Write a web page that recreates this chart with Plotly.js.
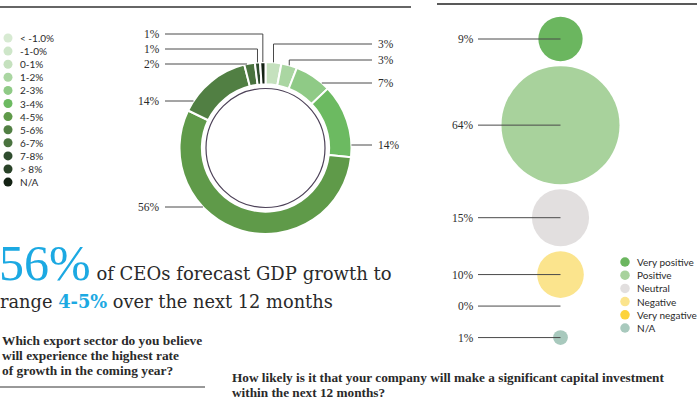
<!DOCTYPE html>
<html><head><meta charset="utf-8">
<script src="https://cdn.plot.ly/plotly-3.0.1.min.js"></script>
<style>html,body{margin:0;padding:0;background:#fff}#chart{width:700px;height:400px}</style>
</head><body><div id="chart"></div>
<script>
// ---------------- data ----------------
const growthCategories = ['< -1.0%', '-1-0%', '0-1%', '1-2%', '2-3%', '3-4%', '4-5%', '5-6%', '6-7%', '7-8%', '> 8%', 'N/A'];
const growthShares = [0, 0, 3, 3, 7, 14, 56, 14, 2, 1, 0, 1];
const growthColors = ['#d7eAd2', '#cee6c9', '#c5e1be', '#aad6a2', '#8fca86', '#6cba61', '#5f9a49', '#517f43', '#4a733f', '#2f4c2e', '#294228', '#142214'];

const investCategories = ['Very positive', 'Positive', 'Neutral', 'Negative', 'Very negative', 'N/A'];
const investShares = [9, 64, 15, 10, 0, 1];
const investColors = ['#6bb65f', '#a8d29c', '#e2dfdf', '#fbe48d', '#fdd33a', '#a8c9bd'];

const headlineValue = '56%';
const headlineRange = '4-5%';
const headlineLines = ['of CEOs forecast GDP growth to', 'range', 'over the next 12 months'];
const questionExport = ['Which export sector do you believe', 'will experience the highest rate', 'of growth in the coming year?'];
const questionInvest = ['How likely is it that your company will make a significant capital investment', 'within the next 12 months?'];

// ---------------- layout config (positions / styles) ----------------
const W = 700, H = 400;
const SERIF = 'Liberation Serif, serif';
const HEAD = 'DejaVu Serif, serif';
const SANS = 'Lato, Noto Sans, sans-serif';
const BLUE = '#1ca9e2';
const INK = '#2a2a2a';
const LINE = '#4a4a4a';
const donut = {cx: 265.5, cy: 148, r: 86, hole: 0.74, ring: 59.5};
const donutLabelY = [null, null, 44, 60, 83, 145, 207, 101, 64, 49, null, 34];
const donutRightEnd = 372, donutLeftEnd = 165;
const growthLegend = {x: 8, textX: 19, y0: 38, pitch: 13.1};
const bubble = {x: 560.5, y0: 39, maxD: 118, gap: 5, minPitch: 31.5, lineStart: 478};
const investLegend = {x: 625, textX: 636, y0: 262, pitch: 13.2};

const esc = s => s.replace(/</g, '&lt;').replace(/>/g, '&gt;');

// ---------------- donut ----------------
const traces = [];
traces.push({
  type: 'pie', values: growthShares, labels: growthCategories.map(esc),
  sort: false, direction: 'clockwise', rotation: 0, hole: donut.hole,
  marker: {colors: growthColors, line: {color: '#ffffff', width: 2}},
  textinfo: 'none', hoverinfo: 'skip', showlegend: false,
  domain: {x: [(donut.cx - donut.r) / W, (donut.cx + donut.r) / W],
           y: [1 - (donut.cy + donut.r) / H, 1 - (donut.cy - donut.r) / H]}
});

const shapes = [];
const annotations = [];
const total = growthShares.reduce((a, b) => a + b, 0);
let cum = 0;
growthShares.forEach((v, i) => {
  const a0 = cum / total * 2 * Math.PI;
  cum += v;
  const a1 = cum / total * 2 * Math.PI;
  if (v <= 0) return;
  const am = (a0 + a1) / 2;
  const right = am < Math.PI;
  const ly = donutLabelY[i];
  const endX = right ? donutRightEnd : donutLeftEnd;
  let path;
  const dy = ly - donut.cy;
  let done = false;
  if (Math.abs(dy) < donut.r) {
    const dx = Math.sqrt(donut.r * donut.r - dy * dy) * (right ? 1 : -1);
    let th = Math.atan2(dx, -dy);
    if (th < 0) th += 2 * Math.PI;
    if (th >= a0 && th <= a1) {
      path = `M ${donut.cx + dx},${ly} L ${endX},${ly}`;
      done = true;
    }
  }
  if (!done) {
    const ex = donut.cx + donut.r * Math.sin(am);
    const ey = donut.cy - donut.r * Math.cos(am);
    path = `M ${ex},${ey} L ${ex},${ly} L ${endX},${ly}`;
  }
  shapes.push({type: 'path', xref: 'x', yref: 'y', path: path, line: {color: LINE, width: 1}, layer: 'above'});
  annotations.push({xref: 'x', yref: 'y', x: right ? endX + 5 : endX - 4, y: ly, xanchor: right ? 'left' : 'right', yanchor: 'middle',
    text: v + '%', showarrow: false, borderpad: 0, font: {family: SERIF, size: 11.5, color: INK}});
});
// inner thin circle
shapes.push({type: 'circle', xref: 'x', yref: 'y', x0: donut.cx - donut.ring, x1: donut.cx + donut.ring,
  y0: donut.cy - donut.ring, y1: donut.cy + donut.ring, line: {color: '#4d4258', width: 1.2}});

// growth legend
const gly = growthCategories.map((c, i) => growthLegend.y0 + i * growthLegend.pitch);
traces.push({
  type: 'scatter', mode: 'markers', xaxis: 'x', yaxis: 'y',
  x: growthCategories.map(() => growthLegend.x), y: gly,
  marker: {size: 9, color: growthColors}, hoverinfo: 'skip', showlegend: false, cliponaxis: false
});
growthCategories.forEach((c, i) => annotations.push({xref: 'x', yref: 'y', x: growthLegend.textX, y: gly[i], xanchor: 'left', yanchor: 'middle',
  text: esc(c), showarrow: false, borderpad: 0, font: {family: SANS, size: 10, color: INK}}));

// ---------------- bubbles ----------------
const maxV = Math.max(...investShares);
const sizeref = 2 * maxV / (bubble.maxD * bubble.maxD);
const radii = investShares.map(v => v > 0 ? Math.sqrt(v / 2 / sizeref) : 0);
const ys = [];
radii.forEach((r, i) => {
  if (i === 0) ys.push(bubble.y0);
  else ys.push(ys[i - 1] + Math.max(radii[i - 1] + r + bubble.gap, bubble.minPitch));
});
traces.push({
  type: 'scatter', mode: 'markers', xaxis: 'x', yaxis: 'y',
  x: investShares.map(() => bubble.x), y: ys,
  marker: {size: investShares, sizemode: 'area', sizeref: sizeref, color: investColors, line: {width: 0}, opacity: 1},
  hoverinfo: 'skip', showlegend: false, cliponaxis: false
});
const lx = [], lyy = [];
ys.forEach(y => { lx.push(bubble.lineStart, bubble.x, null); lyy.push(y, y, null); });
traces.push({type: 'scatter', mode: 'lines', x: lx, y: lyy, line: {color: LINE, width: 1}, hoverinfo: 'skip', showlegend: false});
ys.forEach((y, i) => annotations.push({xref: 'x', yref: 'y', x: bubble.lineStart - 3, y: y, xanchor: 'right', yanchor: 'middle',
  text: investShares[i] + '%', showarrow: false, borderpad: 0, font: {family: SERIF, size: 11.5, color: INK}}));

// invest legend
const ily = investCategories.map((c, i) => investLegend.y0 + i * investLegend.pitch);
traces.push({
  type: 'scatter', mode: 'markers',
  x: investCategories.map(() => investLegend.x), y: ily,
  marker: {size: 9.5, color: investColors}, hoverinfo: 'skip', showlegend: false, cliponaxis: false
});
investCategories.forEach((c, i) => annotations.push({xref: 'x', yref: 'y', x: investLegend.textX, y: ily[i], xanchor: 'left', yanchor: 'middle',
  text: c, showarrow: false, borderpad: 0, font: {family: SANS, size: 10, color: INK}}));

// ---------------- rules ----------------
shapes.push({type: 'line', xref: 'x', yref: 'y', x0: 0, x1: 411, y0: 7, y1: 7, line: {color: '#333', width: 1.5}});
shapes.push({type: 'line', xref: 'x', yref: 'y', x0: 437, x1: 697, y0: 4, y1: 4, line: {color: '#222', width: 1.5}});
shapes.push({type: 'line', xref: 'x', yref: 'y', x0: 0, x1: 205, y0: 387, y1: 387, line: {color: '#333', width: 1}});

// ---------------- text ----------------
const headline1 = '<span style="font-family:Liberation Serif;font-size:50px;color:' + BLUE + '">' + headlineValue + '</span>' +
  ' ' + headlineLines[0];
const headline2 = headlineLines[1] + ' <b><span style="color:' + BLUE + '">' + headlineRange + '</span></b> ' + headlineLines[2];
annotations.push({xref: 'x', yref: 'y', x: 0, xshift: -2, y: 262.6, xanchor: 'left', yanchor: 'middle', showarrow: false, borderpad: 0,
  align: 'left', text: headline1, font: {family: HEAD, size: 18, color: INK}});
annotations.push({xref: 'x', yref: 'y', x: 0, xshift: -1, y: 301.5, xanchor: 'left', yanchor: 'middle', showarrow: false, borderpad: 0,
  align: 'left', text: headline2, font: {family: HEAD, size: 17.8, color: INK}});
questionExport.forEach((t, i) => annotations.push({xref: 'x', yref: 'y', x: 1, y: 340.5 + i * 14.85, xanchor: 'left', yanchor: 'middle',
  showarrow: false, borderpad: 0, text: '<b>' + t + '</b>', font: {family: SERIF, size: 13.4, color: INK}}));
questionInvest.forEach((t, i) => annotations.push({xref: 'x', yref: 'y', x: 231, y: 377.3 + i * 14.8, xanchor: 'left', yanchor: 'middle',
  showarrow: false, borderpad: 0, text: '<b>' + t + '</b>', font: {family: SERIF, size: 13.25, color: INK}}));

const layout = {
  width: W, height: H, margin: {l: 0, r: 0, t: 0, b: 0, pad: 0},
  paper_bgcolor: '#ffffff', plot_bgcolor: 'rgba(0,0,0,0)',
  xaxis: {range: [0, W], visible: false, fixedrange: true, domain: [0, 1]},
  yaxis: {range: [H, 0], visible: false, fixedrange: true, domain: [0, 1]},
  showlegend: false, shapes: shapes, annotations: annotations
};
Plotly.newPlot('chart', traces, layout, {staticPlot: true, displayModeBar: false});
</script></body></html>
